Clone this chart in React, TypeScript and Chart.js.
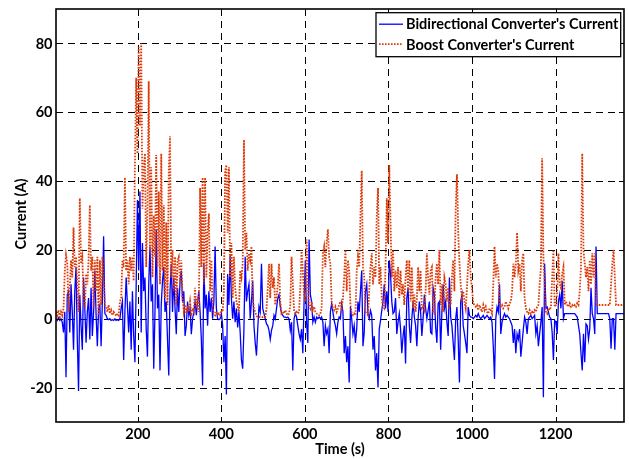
import React, { useEffect, useRef } from 'react';
import { Chart, registerables } from 'chart.js';

Chart.register(...registerables);

// Sampling of the logged currents: one value every 3 s, rows of 60 s starting at t = 4 s
const T_START = 4;
const T_STEP = 3;
const ROW_SPAN = 60;

const X_MIN = 4;
const X_MAX = 1364;
const Y_MIN = -30;
const Y_MAX = 90;
const X_TICKS = [200, 400, 600, 800, 1000, 1200];
const Y_TICKS = [-20, 0, 20, 40, 60, 80];

const X_TITLE = 'Time (s)';
const Y_TITLE = 'Current (A)';
const BIDIR_LABEL = "Bidirectional Converter's Current";
const BOOST_LABEL = "Boost Converter's Current";

// Bidirectional converter current (A), one row per minute
const BIDIR_ROWS: number[][] = [
  [0, -0.5, 0.3, -0.5, 0, -1, -4, 2, -17, 7, 8, -4, 10, 2, -9, 8, 15, -6, -21, 7],
  [-2, -9, 12, 3, -7, 2, 6, -6, 9, -5, 2, 14, 1, -8, 3, 4, -8, 5, 24, 1.5],
  [1, 0, -0.3, 0, -0.5, -0.3, -0.5, 0, -0.5, -0.3, -0.5, 0, 3, 5, -12, 2, 12, 4, -4, 5],
  [-9, 8, -5, -12.6, 10, 34.5, 14, 37, -4, 22, 8, 12, -3, -11, 10, 21, 5, 10, -14.5, 2],
  [26, 3, 7, -15, 4, 11, 15, 2, 5, -6, -16.5, 8, 16, 2, 12, 3, -4.5, 9, 2, 11],
  [14, 5, 8, -5, -2, 5, 1, 3, -4.5, 0, 2, 5, 1, 5, 8, 2, -6, -19.4, 16, 3],
  [7, -2, 8, 2, 6, 0, 5, 21, 3, 0, -0.3, 0, 1.5, -2, -12.6, -5, -22, 13, 4, 18.4],
  [6, 0, 5, -1, 3, -2.5, 2, -4, -12, -14.5, -3, 18, 5, 8, 10, 0, 5, 11, -2, -7],
  [-10.7, -3, 3.5, 2, 16, 3, 1.5, 0, -1.5, -2, -3.4, -6, -3.4, -2, 1, 0, 3, 6, 7, 3.5],
  [1.5, 1, 0.5, 0.5, 0.3, 0.5, 0, -3.4, -1, -15, 0, 1.5, 0.5, -2, -4.4, -6, -3, -10, 5, 17],
  [-1, -7, 23, 7, 5, -1, 0.5, -1, 0.5, 0, 0.5, 0, 0.5, -1, -8, -2, -4.4, -3, -10, 2],
  [4.4, 2, -0.5, -2, -4.4, -1, 0.5, 0, 4.4, 2, -10, -5, -12.6, -8, -18.5, 3.4, 0, -4.4, -2, -7],
  [-3, 5, 2, 8, 14, -8, -4, 8, 10, 1.5, 0, 2.4, 1, -9, -5, -15, -10, -20, -3, -0.5],
  [2.4, 5, 10, 3, 8, 2, 17, 13, 5, 1.5, 2, 6, -4.4, -1, 1.5, -3, -10, -5, -2, -13],
  [6, 9, -2, -7, 0, 5, 0.5, -2, -8, 0, 5, 2, -5, 0, 7, 3, 0, 2.4, 5, -4],
  [-4.4, 9, 7, -2.4, -7, 4.4, 5, -9, 2, 10, 3, 5, -1, -5, 12, 0.5, -2, -7, -12, 0],
  [3.4, -6, -18.5, 5, 7, -2, -4.4, -7, -10, 3.4, 1, 0.5, 0.5, 0, 0.5, 1, 0.5, 1.5, 0.5, 0],
  [0.5, 1, 0, 0.5, 1, 0.5, 0, 0.5, -1, -8, -17.5, 0, 3.4, 2, 10, -4.4, -1, 0.5, 1.5, 0.5],
  [1, 0.5, 0, -1, -2, -7, -3, -10, -4.4, -6, -3, -11, -7, -3, 0.5, -1, -4.4, 0, 0.5, 1],
  [0, 0.5, 1, -4.4, -2, -8, -4.4, -1, 3.4, -22.8, 16, 3, 3.4, 2, 0.5, 0, -4, -12, -0.5, -1],
  [-4.4, 5, 7, 3, 11, 0, 1.5, 1.5, 1.5, 1.5, 1.5, 1.5, 1.5, 1.5, 1.5, 1, 0.5, -2, -4.4, -10],
  [-15, -4.4, -12.6, -1.5, -2, -6, -3, 9, 1.5, 0, -4.4, 21, 1.5, 1.5, 1.5, 1.5, 1.5, 1.5, 1.5, 1.5],
  [1.5, 1.5, 0, -8.7, 0, 0, -9, 1.5, 1.5, 1.5, 1.5, 1.5, 1.5, 1.5],
];

// Boost converter current (A), one row per minute
const BOOST_ROWS: number[][] = [
  [2, 1, 2.5, 0.5, 2, 1, 3, 14, 18.5, 16, 2, 9, 17, 12, 26.5, 15, 18, 10, 2, 35],
  [16, 18, 6, 3, 13, 10, 17, 33, 14, 18, 3, 17, 8, 18, 1, 17, 4, 18, 12, 4],
  [3.5, 2, 4, 1.5, 2.5, 1, 2, 1.5, 0.8, 1.5, 1, 5, 6, 17, 15, 41, 14, 17, 10, 18],
  [14, 18, 11, 45, 70, 48, 79, 56, 80, 32, 44, 48, 15, 33, 69, 20, 44, 12, 30, 18],
  [47.6, 15, 37, 10, 48, 14, 33, 6, 28, 4, 43, 53, 12, 20, 8, 18, 4, 17, 18, 10],
  [17, 6, 2, 4, 1.5, 3, 2, 5, 1.5, 3, 2, 9, 3, 6, 2, 38, 15, 41, 10, 41],
  [12, 25, 30.6, 8, 17, 3, 1.5, 1, 2, 1, 1.5, 1, 2.5, 2, 8, 43, 44.7, 25, 44, 12],
  [22, 6, 18, 9, 5, 3.5, 2, 14, 12, 16, 52, 20, 25, 14, 19, 17, 21, 6, 3, 2],
  [0.8, 0.5, 0.6, 0.4, 0.5, 0.5, 0.6, 0.5, 3, 9, 16, 6, 16, 9, 12, 4, 6, 10, 16, 5],
  [1.5, 2, 1.5, 2.5, 1.5, 1, 1.5, 4, 18, 10, 2.5, 1.5, 2, 1.5, 2, 9, 20, 14, 7, 5],
  [23, 10, 4, 3, 5, 2.5, 3.5, 2, 1.5, 1.5, 1, 1.5, 3, 19, 21, 15, 22, 26, 18, 16],
  [5, 3, 2.5, 3.5, 2, 3, 4, 5, 3, 6, 12, 20, 8, 17, 14, 4, 1.5, 1, 1.5, 1],
  [14, 18, 15, 30, 43, 15, 12, 2, 1.5, 1, 8, 15, 19, 10, 15, 12, 30, 38, 10, 15],
  [6, 3.5, 3, 15, 35, 22, 44.7, 28, 12, 20, 8, 14, 9, 15, 6, 14, 7, 10, 4, 12],
  [17, 8, 17, 5, 15, 3, 7, 2, 6, 15, 8, 14, 3, 3.5, 2.5, 8, 19, 12, 7, 14],
  [15, 2, 1.5, 12, 16, 10, 20, 4, 10, 2, 12, 10, 5, 9, 3.5, 4, 12, 17, 8, 32],
  [42, 25, 16, 10, 6, 8, 5, 3, 9, 16, 20, 12, 9, 4.5, 4, 3.5, 4, 2.5, 4, 3],
  [2, 4, 2.5, 3.5, 2, 1.5, 3, 2.5, 1.5, 10, 21, 12, 16, 14, 4, 3.5, 4, 3, 3.5, 5],
  [4, 3, 4.5, 5, 8, 16, 12, 16, 25, 14, 16, 8, 17, 19, 6, 3, 2, 1.5, 2.5, 1.5],
  [2, 1.5, 2.5, 2, 3.5, 4, 10, 15, 46.6, 18, 10, 2, 1.5, 3, 2.5, 3.5, 12, 20, 3.5, 4],
  [8, 19, 10, 9, 13, 15, 4, 5, 4, 3.5, 4.5, 3.5, 4, 3.5, 4, 3.5, 4.5, 4, 8, 15],
  [48, 20, 16, 12, 15, 8, 17, 10, 19, 12, 19, 5, 4, 4, 4, 4, 4, 4, 4, 4],
  [4, 4, 4, 10, 16, 20, 12, 4, 4, 4, 4, 4, 4, 4],
];

const BLUE = '#0000ff';
const RED = '#dd3a08';
const FONT = 'bold 14.5px Lato, "Open Sans", sans-serif';

function toPoints(rows: number[][]) {
  const pts: { x: number; y: number }[] = [];
  rows.forEach((row, r) => {
    row.forEach((v, j) => {
      pts.push({ x: T_START + r * ROW_SPAN + j * T_STEP, y: v });
    });
  });
  return pts;
}

// Dashed grid, inward ticks, box, tick labels, axis titles and the legend
const matlabFrame = {
  id: 'matlabFrame',
  beforeDatasetsDraw(chart: any) {
    const { ctx, chartArea: a, scales } = chart;
    const xs = scales.x;
    const ys = scales.y;
    ctx.save();
    ctx.strokeStyle = '#000';
    ctx.lineWidth = 1;
    ctx.setLineDash([7, 5]);
    X_TICKS.forEach((v) => {
      const px = Math.round(xs.getPixelForValue(v)) + 0.5;
      ctx.beginPath();
      ctx.moveTo(px, a.top);
      ctx.lineTo(px, a.bottom);
      ctx.stroke();
    });
    Y_TICKS.forEach((v) => {
      const py = Math.round(ys.getPixelForValue(v)) + 0.5;
      ctx.beginPath();
      ctx.moveTo(a.left, py);
      ctx.lineTo(a.right, py);
      ctx.stroke();
    });
    ctx.restore();
  },
  afterDatasetsDraw(chart: any) {
    const { ctx, chartArea: a, scales } = chart;
    const xs = scales.x;
    const ys = scales.y;
    ctx.save();
    ctx.setLineDash([]);
    ctx.strokeStyle = '#000';

    // inward tick marks on all four sides
    ctx.lineWidth = 1;
    const tl = 5;
    X_TICKS.forEach((v) => {
      const px = Math.round(xs.getPixelForValue(v)) + 0.5;
      ctx.beginPath();
      ctx.moveTo(px, a.bottom);
      ctx.lineTo(px, a.bottom - tl);
      ctx.moveTo(px, a.top);
      ctx.lineTo(px, a.top + tl);
      ctx.stroke();
    });
    Y_TICKS.forEach((v) => {
      const py = Math.round(ys.getPixelForValue(v)) + 0.5;
      ctx.beginPath();
      ctx.moveTo(a.left, py);
      ctx.lineTo(a.left + tl, py);
      ctx.moveTo(a.right, py);
      ctx.lineTo(a.right - tl, py);
      ctx.stroke();
    });

    // axes box
    ctx.lineWidth = 1.6;
    ctx.strokeRect(a.left, a.top, a.right - a.left, a.bottom - a.top);

    // tick labels
    ctx.fillStyle = '#000';
    ctx.font = FONT;
    ctx.textAlign = 'right';
    ctx.textBaseline = 'middle';
    Y_TICKS.forEach((v) => {
      ctx.fillText(String(v), a.left - 3.5, ys.getPixelForValue(v) + 0.5);
    });
    ctx.textAlign = 'center';
    X_TICKS.forEach((v) => {
      ctx.fillText(String(v), xs.getPixelForValue(v), a.bottom + 12.5);
    });

    // axis titles
    ctx.fillText(X_TITLE, (a.left + a.right) / 2, a.bottom + 27.5);
    ctx.save();
    ctx.translate(21.5, (a.top + a.bottom) / 2 - 1.5);
    ctx.rotate(-Math.PI / 2);
    ctx.fillText(Y_TITLE, 0, 0);
    ctx.restore();

    // legend
    const lx = a.right - 248;
    const ly = a.top + 3.7;
    const lw = 244.7;
    const lh = 44;
    ctx.fillStyle = '#fff';
    ctx.fillRect(lx, ly, lw, lh);
    ctx.lineWidth = 1.3;
    ctx.strokeStyle = '#000';
    ctx.strokeRect(lx, ly, lw, lh);

    ctx.lineWidth = 1.3;
    ctx.strokeStyle = BLUE;
    ctx.beginPath();
    ctx.moveTo(lx + 3, ly + 11.5);
    ctx.lineTo(lx + 27, ly + 11.5);
    ctx.stroke();

    ctx.lineWidth = 1.8;
    ctx.strokeStyle = RED;
    ctx.setLineDash([1.6, 1.4]);
    ctx.beginPath();
    ctx.moveTo(lx + 3, ly + 31.5);
    ctx.lineTo(lx + 27, ly + 31.5);
    ctx.stroke();
    ctx.setLineDash([]);

    ctx.fillStyle = '#000';
    ctx.textAlign = 'left';
    ctx.fillText(BIDIR_LABEL, lx + 30, ly + 12);
    ctx.fillText(BOOST_LABEL, lx + 30, ly + 33);
    ctx.restore();
  },
};

export default function App() {
  const canvasRef = useRef<HTMLCanvasElement | null>(null);

  useEffect(() => {
    const canvas = canvasRef.current;
    if (!canvas) return;
    const chart = new Chart(canvas, {
      type: 'line',
      data: {
        datasets: [
          {
            label: BOOST_LABEL,
            data: toPoints(BOOST_ROWS),
            borderColor: RED,
            borderWidth: 1.8,
            borderDash: [1.6, 1.4],
            pointRadius: 0,
            tension: 0,
            fill: false,
            order: 0,
          },
          {
            label: BIDIR_LABEL,
            data: toPoints(BIDIR_ROWS),
            borderColor: BLUE,
            borderWidth: 1.3,
            pointRadius: 0,
            tension: 0,
            fill: false,
            order: 1,
          },
        ],
      },
      options: {
        animation: false,
        responsive: false,
        devicePixelRatio: 1,
        parsing: false,
        normalized: true,
        layout: { padding: { left: 0, right: 5, top: 9, bottom: 0 } },
        plugins: {
          legend: { display: false },
          tooltip: { enabled: false },
        },
        scales: {
          x: {
            type: 'linear',
            min: X_MIN,
            max: X_MAX,
            grid: { display: false },
            border: { display: false },
            ticks: { display: false },
            afterFit: (s: any) => {
              s.height = 37;
            },
          },
          y: {
            type: 'linear',
            min: Y_MIN,
            max: Y_MAX,
            grid: { display: false },
            border: { display: false },
            ticks: { display: false },
            afterFit: (s: any) => {
              s.width = 56;
            },
          },
        },
      },
      plugins: [matlabFrame],
    });
    return () => chart.destroy();
  }, []);

  return (
    <div style={{ position: 'absolute', left: 0, top: 0, width: 629, height: 459, background: '#fff' }}>
      <canvas ref={canvasRef} width={629} height={459} style={{ display: 'block' }} />
    </div>
  );
}
